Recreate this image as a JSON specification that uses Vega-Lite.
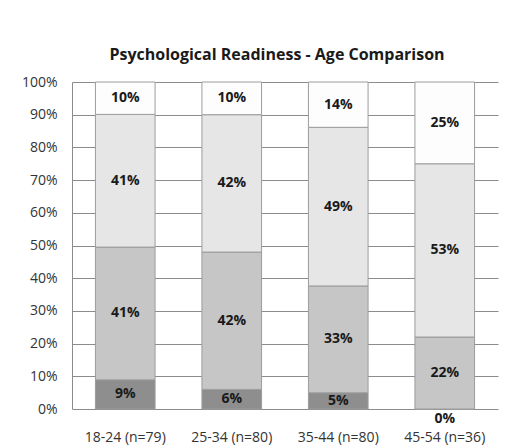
{
  "$schema": "https://vega.github.io/schema/vega-lite/v6.json",
  "width": 426,
  "height": 327,
  "autosize": "none",
  "padding": {"left": 72, "top": 82, "right": 21, "bottom": 39},
  "background": "white",
  "title": {
    "text": "Psychological Readiness - Age Comparison",
    "font": "Open Sans",
    "fontSize": 16,
    "fontWeight": "bold",
    "color": "#1a1a1a",
    "anchor": "middle",
    "dx": -8,
    "offset": 12
  },
  "data": {
    "values": [
      {"age": "18-24 (n=79)", "level": 1, "pct": 0.09},
      {"age": "18-24 (n=79)", "level": 2, "pct": 0.41},
      {"age": "18-24 (n=79)", "level": 3, "pct": 0.41},
      {"age": "18-24 (n=79)", "level": 4, "pct": 0.10},
      {"age": "25-34 (n=80)", "level": 1, "pct": 0.06},
      {"age": "25-34 (n=80)", "level": 2, "pct": 0.42},
      {"age": "25-34 (n=80)", "level": 3, "pct": 0.42},
      {"age": "25-34 (n=80)", "level": 4, "pct": 0.10},
      {"age": "35-44 (n=80)", "level": 1, "pct": 0.05},
      {"age": "35-44 (n=80)", "level": 2, "pct": 0.33},
      {"age": "35-44 (n=80)", "level": 3, "pct": 0.49},
      {"age": "35-44 (n=80)", "level": 4, "pct": 0.14},
      {"age": "45-54 (n=36)", "level": 1, "pct": 0.00},
      {"age": "45-54 (n=36)", "level": 2, "pct": 0.22},
      {"age": "45-54 (n=36)", "level": 3, "pct": 0.53},
      {"age": "45-54 (n=36)", "level": 4, "pct": 0.25}
    ]
  },
  "encoding": {
    "x": {
      "field": "age",
      "type": "nominal",
      "sort": null,
      "scale": {"paddingInner": 0.44, "paddingOuter": 0.22},
      "axis": {
        "title": null,
        "labelAngle": 0,
        "labelFont": "Open Sans",
        "labelFontSize": 14,
        "labelColor": "#333333",
        "labelPadding": 21,
        "labelOverlap": false,
        "ticks": false,
        "domain": false
      }
    }
  },
  "layer": [
    {
      "mark": {"type": "bar", "stroke": "#9c9c9c", "strokeWidth": 1},
      "encoding": {
        "y": {
          "field": "pct",
          "type": "quantitative",
          "stack": "normalize",
          "scale": {"domain": [0, 1]},
          "axis": {
            "title": null,
            "format": ".0%",
            "values": [0, 0.1, 0.2, 0.3, 0.4, 0.5, 0.6, 0.7, 0.8, 0.9, 1],
            "labelOverlap": false,
            "grid": true
          }
        },
        "color": {
          "field": "level",
          "type": "ordinal",
          "legend": null,
          "scale": {"domain": [1, 2, 3, 4], "range": ["#8e8e8e", "#c6c6c6", "#e6e6e6", "#fdfdfd"]}
        },
        "order": {"field": "level", "type": "ordinal"}
      }
    },
    {
      "transform": [
        {"stack": "pct", "groupby": ["age"], "sort": [{"field": "level"}], "offset": "normalize", "as": ["y0", "y1"]},
        {"filter": "datum.pct > 0"},
        {"fold": ["y0", "y1"], "as": ["edge", "pos"]},
        {"aggregate": [{"op": "mean", "field": "pos", "as": "mid"}], "groupby": ["age", "level", "pct"]}
      ],
      "mark": {"type": "text", "font": "Open Sans", "fontSize": 14, "fontWeight": "bold", "color": "#1a1a1a", "baseline": "middle"},
      "encoding": {
        "y": {
          "field": "mid",
          "type": "quantitative",
          "axis": {
            "title": null,
            "format": ".0%",
            "values": [0, 0.1, 0.2, 0.3, 0.4, 0.5, 0.6, 0.7, 0.8, 0.9, 1],
            "labelOverlap": false,
            "grid": true
          }
        },
        "text": {"field": "pct", "type": "quantitative", "format": ".0%"}
      }
    },
    {
      "transform": [
        {"filter": "datum.pct == 0"}
      ],
      "mark": {"type": "text", "font": "Open Sans", "fontSize": 14, "fontWeight": "bold", "color": "#1a1a1a", "baseline": "middle", "dy": 10},
      "encoding": {
        "y": {
          "field": "pct",
          "type": "quantitative",
          "axis": {
            "title": null,
            "format": ".0%",
            "values": [0, 0.1, 0.2, 0.3, 0.4, 0.5, 0.6, 0.7, 0.8, 0.9, 1],
            "labelOverlap": false,
            "grid": true
          }
        },
        "text": {"field": "pct", "type": "quantitative", "format": ".0%"}
      }
    }
  ],
  "config": {
    "view": {"stroke": null},
    "axisY": {
      "labelFont": "Open Sans",
      "labelFontSize": 14,
      "labelColor": "#333333",
      "labelPadding": 15,
      "ticks": false,
      "domain": true,
      "domainColor": "#8c8c8c",
      "gridColor": "#8c8c8c",
      "gridOpacity": 1
    }
  }
}
